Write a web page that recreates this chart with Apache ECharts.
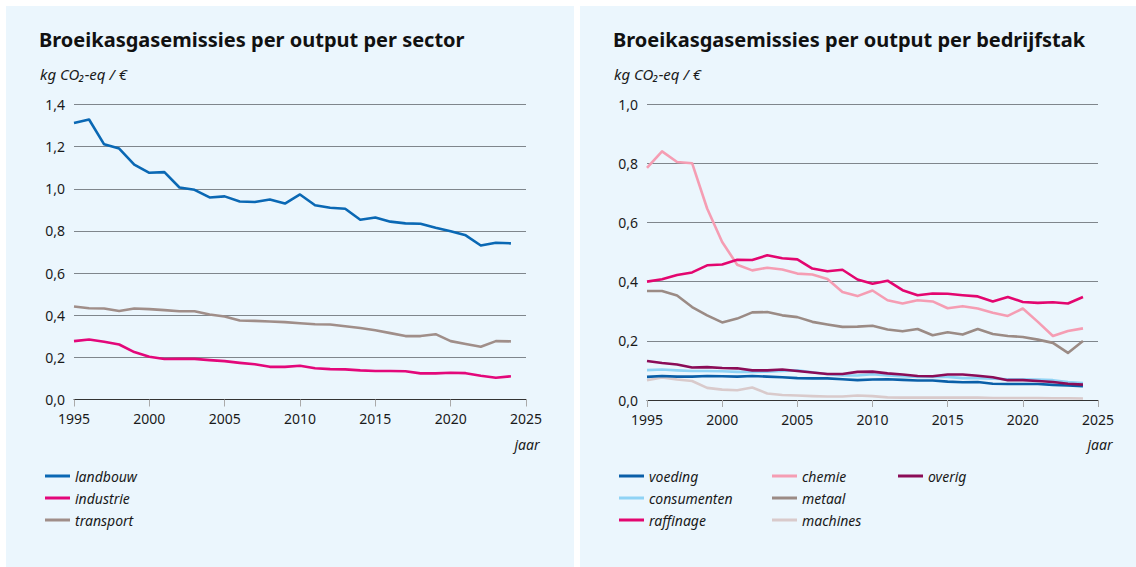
<!DOCTYPE html>
<html lang="nl">

<head>
    <meta charset="UTF-8">
    <title>Broeikasgasemissies per output</title>
    <script src="https://cdn.jsdelivr.net/npm/echarts@6/dist/echarts.min.js"></script>
    <style>
        * {
            margin: 0;
            padding: 0;
        }

        body {
            background: #fff;
        }

        #main {
            width: 1136px;
            height: 567px;
        }
    </style>
</head>

<body>
    <div id="main"></div>
    <script>
        // jaren 1995 - 2024
        var years = [];
        for (var y = 1995; y <= 2024; y++) years.push(y);

        // links: per sector
        var landbouw = [1.312, 1.329, 1.211, 1.191, 1.115, 1.076, 1.079, 1.006, 0.995, 0.959, 0.964, 0.940, 0.937, 0.949, 0.930,
            0.973, 0.922, 0.910, 0.905, 0.853, 0.864, 0.844, 0.836, 0.834, 0.815, 0.798, 0.779, 0.731, 0.744, 0.741];
        var industrie = [0.277, 0.285, 0.274, 0.261, 0.225, 0.203, 0.192, 0.193, 0.193, 0.187, 0.182, 0.174, 0.167, 0.155, 0.155,
            0.160, 0.148, 0.144, 0.143, 0.138, 0.135, 0.135, 0.134, 0.124, 0.124, 0.127, 0.125, 0.113, 0.103, 0.110];
        var transport = [0.441, 0.433, 0.432, 0.420, 0.432, 0.429, 0.424, 0.419, 0.419, 0.403, 0.394, 0.375, 0.373, 0.370, 0.367,
            0.362, 0.357, 0.356, 0.348, 0.339, 0.329, 0.315, 0.301, 0.301, 0.310, 0.277, 0.263, 0.250, 0.277, 0.276];

        // rechts: per bedrijfstak
        var voeding = [0.078, 0.081, 0.079, 0.079, 0.081, 0.080, 0.079, 0.081, 0.079, 0.077, 0.074, 0.073, 0.073, 0.070, 0.067,
            0.069, 0.070, 0.068, 0.066, 0.066, 0.062, 0.060, 0.061, 0.055, 0.054, 0.054, 0.054, 0.051, 0.049, 0.047];
        var consumenten = [0.101, 0.103, 0.100, 0.098, 0.098, 0.097, 0.095, 0.095, 0.096, 0.098, 0.100, 0.094, 0.087, 0.083, 0.083,
            0.087, 0.083, 0.080, 0.078, 0.078, 0.078, 0.074, 0.074, 0.072, 0.070, 0.070, 0.069, 0.067, 0.061, 0.057];
        var raffinage = [0.400, 0.408, 0.422, 0.431, 0.455, 0.458, 0.474, 0.473, 0.489, 0.479, 0.475, 0.444, 0.435, 0.440, 0.407,
            0.393, 0.403, 0.371, 0.354, 0.360, 0.359, 0.354, 0.350, 0.333, 0.348, 0.331, 0.328, 0.330, 0.326, 0.348];
        var chemie = [0.784, 0.840, 0.804, 0.800, 0.647, 0.534, 0.457, 0.438, 0.447, 0.441, 0.427, 0.424, 0.409, 0.365, 0.351,
            0.370, 0.337, 0.326, 0.337, 0.333, 0.310, 0.317, 0.309, 0.295, 0.284, 0.309, 0.264, 0.216, 0.233, 0.242];
        var metaal = [0.368, 0.368, 0.353, 0.314, 0.286, 0.262, 0.275, 0.296, 0.297, 0.286, 0.280, 0.264, 0.255, 0.247, 0.248,
            0.251, 0.238, 0.232, 0.240, 0.219, 0.229, 0.221, 0.240, 0.223, 0.216, 0.213, 0.204, 0.193, 0.159, 0.199];
        var machines = [0.067, 0.076, 0.069, 0.064, 0.041, 0.035, 0.033, 0.042, 0.022, 0.017, 0.015, 0.013, 0.012, 0.012, 0.015,
            0.013, 0.009, 0.008, 0.008, 0.008, 0.008, 0.008, 0.008, 0.007, 0.007, 0.007, 0.007, 0.006, 0.006, 0.005];
        var overig = [0.132, 0.125, 0.120, 0.110, 0.111, 0.108, 0.107, 0.100, 0.100, 0.103, 0.098, 0.093, 0.088, 0.088, 0.095,
            0.096, 0.090, 0.086, 0.081, 0.080, 0.086, 0.086, 0.082, 0.077, 0.067, 0.067, 0.064, 0.061, 0.055, 0.052];

        var font = 'Noto Sans';
        var textColor = '#1a1a1a';

        function pairs(arr) {
            return arr.map(function (v, i) { return [years[i], v]; });
        }

        function line(name, data, color, gridIndex) {
            return {
                name: name,
                type: 'line',
                xAxisIndex: gridIndex,
                yAxisIndex: gridIndex,
                data: pairs(data),
                symbol: 'none',
                smooth: false,
                lineStyle: { color: color, width: 2.6, join: 'round' },
                itemStyle: { color: color },
                emphasis: { disabled: true }
            };
        }

        function xAxis(gridIndex) {
            return {
                type: 'value',
                gridIndex: gridIndex,
                min: 1995, max: 2025, interval: 5,
                axisLine: { show: true, onZero: false, lineStyle: { color: '#333', width: 1 } },
                axisTick: { show: true, length: 7, lineStyle: { color: '#aaa' } },
                splitLine: { show: false },
                axisLabel: {
                    margin: 12, color: textColor, fontFamily: font, fontSize: 14,
                    formatter: function (v) { return String(v); }
                }
            };
        }

        function yAxis(gridIndex, max) {
            return {
                type: 'value',
                gridIndex: gridIndex,
                min: 0, max: max, interval: 0.2,
                axisLine: { show: false },
                axisTick: { show: false },
                splitLine: { lineStyle: { color: '#7f868c', width: 1 } },
                axisLabel: {
                    margin: 9, color: textColor, fontFamily: font, fontSize: 14,
                    formatter: function (v) { return v.toFixed(1).replace('.', ','); }
                }
            };
        }

        function legend(names, left) {
            return {
                data: names,
                orient: 'vertical',
                left: left,
                top: 464,
                itemWidth: 25,
                itemHeight: 3,
                itemGap: 8,
                icon: 'rect',
                selectedMode: false,
                textStyle: { fontFamily: font, fontStyle: 'italic', fontSize: 14, color: textColor, padding: [0, 0, 0, 0] }
            };
        }

        var chartDom = document.getElementById('main');
        var myChart = echarts.init(chartDom, null, { renderer: 'svg' });

        var option = {
            animation: false,
            backgroundColor: '#fff',
            textStyle: { fontFamily: font },
            graphic: [
                { type: 'rect', shape: { x: 6, y: 6, width: 568, height: 561 }, style: { fill: '#ebf6fd' }, z: -10 },
                { type: 'rect', shape: { x: 580, y: 6, width: 556, height: 561 }, style: { fill: '#ebf6fd' }, z: -10 },
                { type: 'text', x: 527, y: 444, style: { text: 'jaar', fill: textColor, font: 'italic 14px "Noto Sans"', textAlign: 'center', textVerticalAlign: 'middle' } },
                { type: 'text', x: 1100, y: 444, style: { text: 'jaar', fill: textColor, font: 'italic 14px "Noto Sans"', textAlign: 'center', textVerticalAlign: 'middle' } }
            ],
            title: [
                { text: 'Broeikasgasemissies per output per sector', left: 39, top: 29, padding: 0,
                  textStyle: { fontFamily: font, fontWeight: 'bold', fontSize: 20, color: '#111' } },
                { text: 'kg CO₂-eq / €', left: 40, top: 66, padding: 0,
                  textStyle: { fontFamily: font, fontStyle: 'italic', fontWeight: 'normal', fontSize: 15, color: textColor } },
                { text: 'Broeikasgasemissies per output per bedrijfstak', left: 613, top: 29, padding: 0,
                  textStyle: { fontFamily: font, fontWeight: 'bold', fontSize: 20, color: '#111' } },
                { text: 'kg CO₂-eq / €', left: 614, top: 66, padding: 0,
                  textStyle: { fontFamily: font, fontStyle: 'italic', fontWeight: 'normal', fontSize: 15, color: textColor } }
            ],
            legend: [
                legend(['landbouw', 'industrie', 'transport'], 40),
                legend(['voeding', 'consumenten', 'raffinage'], 614),
                legend(['chemie', 'metaal', 'machines'], 767),
                legend(['overig'], 893)
            ],
            grid: [
                { left: 74, top: 104.5, width: 452, height: 295 },
                { left: 647, top: 104, width: 451, height: 296 }
            ],
            xAxis: [xAxis(0), xAxis(1)],
            yAxis: [yAxis(0, 1.4), yAxis(1, 1.0)],
            series: [
                line('landbouw', landbouw, '#0a68b4', 0),
                line('industrie', industrie, '#e3077a', 0),
                line('transport', transport, '#a08e89', 0),
                line('machines', machines, '#d9cacb', 1),
                line('metaal', metaal, '#9b8b85', 1),
                line('chemie', chemie, '#f59db3', 1),
                line('raffinage', raffinage, '#e3066f', 1),
                line('voeding', voeding, '#0a5fa8', 1),
                line('consumenten', consumenten, '#8fd3f5', 1),
                line('overig', overig, '#8b0c57', 1)
            ]
        };
        myChart.setOption(option);
    </script>
</body>

</html>
